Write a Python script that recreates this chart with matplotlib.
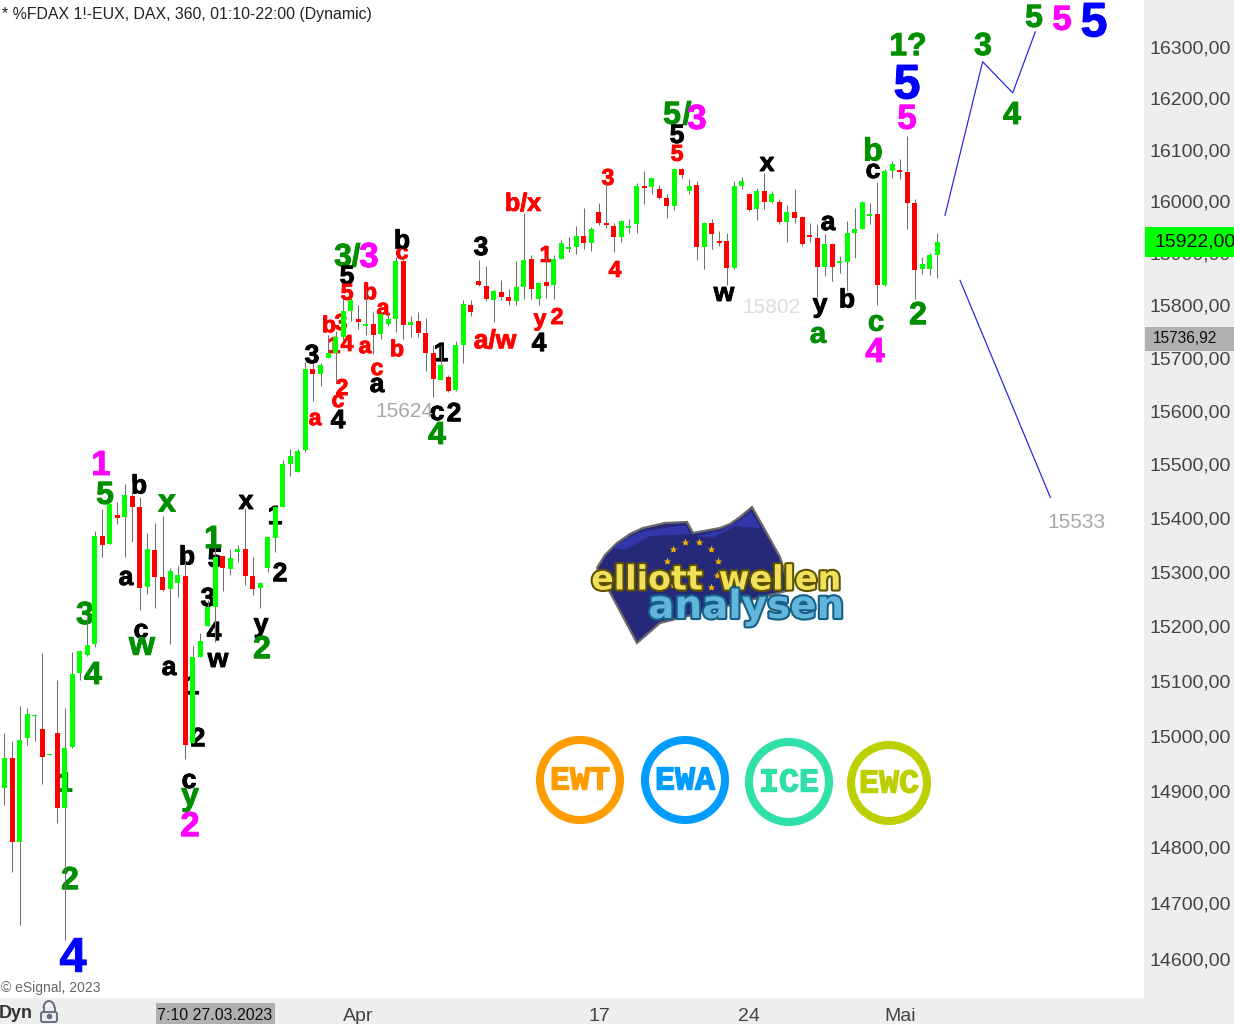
import math
import matplotlib
matplotlib.use("Agg")
import matplotlib.pyplot as plt
import matplotlib.patheffects as pe
from matplotlib.font_manager import FontProperties
from matplotlib.patches import Circle, Polygon, Rectangle, FancyBboxPatch, Arc
from matplotlib.textpath import TextPath
from matplotlib.ticker import NullLocator
from matplotlib.transforms import blended_transform_factory

highs = [15004,14991,15053,15051,15040,15150,14967,15101,15050,15152,
 15156,15217,15375,15416,15425,15429,15463,15466,15438,15371,
 15390,15403,15306,15310,15331,15163,15187,15248,15344,15329,
 15342,15349,15418,15327,15281,15364,15423,15507,15528,15528,
 15692,15690,15690,15743,15752,15815,15815,15800,15831,15787,
 15787,15787,15892,15892,15779,15787,15777,15724,15724,15667,
 15733,15810,15810,15887,15875,15829,15848,15831,15885,15977,
 15896,15842,15896,15896,15925,15931,15952,15987,15950,15996,
 16035,15958,15963,15965,16035,16058,16046,16031,16015,16064,
 16064,16043,16039,15960,15965,15942,15938,16039,16048,16017,
 16025,16054,16019,16004,15992,16023,15971,15958,15956,15937,
 15919,15894,15962,15987,16000,15996,16037,16062,16078,16082,
 16126,16004,15892,15900,15938]
lows = [14875,14755,14661,14984,14991,14912,14965,14843,14634,14977,
 15101,15145,15161,15327,15351,15388,15327,15355,15229,15259,
 15233,15264,15167,15253,14957,14986,15143,15200,15171,15264,
 15294,15318,15275,15257,15233,15299,15336,15420,15478,15485,
 15522,15618,15648,15701,15654,15733,15770,15756,15743,15707,
 15737,15760,15749,15737,15739,15739,15675,15627,15659,15635,
 15637,15690,15779,15838,15808,15768,15810,15800,15800,15812,
 15812,15800,15815,15813,15888,15902,15898,15908,15904,15954,
 15948,15902,15921,15938,15938,15994,16015,16004,15967,15983,
 16045,16015,15887,15869,15908,15913,15840,15869,16023,15981,
 15963,15985,15996,15956,15921,15958,15913,15921,15817,15856,
 15846,15862,15827,15890,15946,15956,15800,15837,16045,16043,
 15946,15812,15860,15858,15852]
opens = [14905,14959,14809,14995,15036,15013,14965,15005,14870,14979,
 15114,15147,15167,15366,15351,15406,15401,15440,15420,15272,
 15340,15290,15268,15279,15292,14986,15143,15200,15235,15329,
 15305,15336,15342,15292,15270,15306,15362,15420,15500,15485,
 15526,15680,15669,15701,15709,15739,15790,15775,15760,15764,
 15745,15764,15775,15885,15762,15770,15747,15709,15659,15665,
 15639,15724,15800,15846,15838,15810,15825,15817,15808,15835,
 15888,15812,15844,15840,15888,15908,15912,15933,15919,15979,
 15958,15952,15931,15948,15956,16029,16027,16023,16006,15990,
 16062,16019,16031,15912,15958,15923,15923,15871,16029,16014,
 15985,16019,15998,15998,15960,15979,15969,15935,15929,15873,
 15917,15881,15883,15938,15946,15971,15975,15840,16058,16060,
 16056,15996,15869,15869,15896]
closes = [14959,14809,14993,15039,15038,14962,14967,14870,14977,15112,
 15154,15165,15366,15349,15425,15399,15442,15420,15270,15342,
 15290,15266,15301,15294,14984,15143,15172,15235,15327,15306,
 15325,15342,15292,15268,15279,15364,15421,15500,15515,15524,
 15680,15669,15686,15709,15739,15790,15810,15768,15764,15743,
 15783,15775,15885,15762,15768,15747,15709,15661,15686,15637,
 15724,15802,15787,15840,15812,15827,15817,15808,15835,15887,
 15831,15842,15838,15888,15919,15912,15933,15919,15946,15958,
 15954,15931,15962,15952,16029,16025,16045,16006,15990,16062,
 16051,16029,15912,15958,15937,15919,15871,16029,16039,15983,
 16019,15998,16015,15960,15979,15967,15917,15931,15873,15917,
 15873,15885,15938,15946,15998,15975,15840,16058,16072,16056,
 15996,15867,15879,15896,15922]

y_ticks = [16300,16200,16100,16000,15900,15800,15700,15600,15500,
           15400,15300,15200,15100,15000,14900,14800,14700,14600]
x_ticks = [47, 79, 99, 119]
x_tick_labels = ["Apr", "17", "24", "Mai"]
last_price = 15922
cursor_price = 15736.92
up_path_x = [125, 130, 134, 137]
up_path_y = [15973, 16272, 16211, 16331]
down_path_x = [127, 139]
down_path_y = [15848, 15438]

GR, MG, BL, BK, RD = "#008f00", "#ff00ff", "#0000ff", "#000000", "#ff0000"
wave_labels = [
 ("1",101,463,MG,25),("5",105,493,GR,23),("b",139,484,BK,19),("x",167,503,GR,23),
 ("a",126,578,BK,19),("c",141,631,BK,19),("w",142,646,GR,24),("3",85,613,GR,23),
 ("4",93,673,GR,23),("1",213,537,GR,23),("5",215,558,BK,19),("3",208,597,BK,19),
 ("4",214,631,BK,19),("w",218,660,BK,19),("b",187,555,BK,19),("a",169,668,BK,19),
 ("1",192,685,BK,19),("x",246,502,BK,19),("1",275,515,BK,19),("2",280,572,BK,19),
 ("y",261,628,BK,19),("2",262,647,GR,23),("2",198,737,BK,19),("c",189,781,BK,19),
 ("y",190,800,GR,23),("2",190,824,MG,25),("1",65,782,GR,20),("2",70,878,GR,23),
 ("4",73,955,BL,35),
 ("3",343,255,GR,23),("/",356,255,GR,23),("3",369,255,MG,25),("5",347,275,BK,19),
 ("5",347,292,RD,16.5),("b",370,291,RD,16.5),("a",383,309,RD,16.5),("b",329,324,RD,16.5),
 ("3",341,322,RD,16.5),("4",347,343,RD,16.5),("1",334,345,RD,16.5),("a",365,347,RD,16.5),
 ("c",377,369,RD,16.5),("b",397,348,RD,16.5),("c",402,253,RD,16.5),("2",342,387,RD,16.5),
 ("c",338,401,RD,16.5),("a",315,419,RD,16.5),("a/w",495,339,RD,19),("b/x",523,202,RD,18),
 ("1",546,254,RD,16.5),("y",540,322,RD,16.5),("2",557,316,RD,16.5),("3",608,177,RD,16.5),
 ("4",615,269,RD,16.5),("5",677,153,RD,16.5),
 ("3",312,354,BK,19),("4",338,419,BK,19),("a",377,385,BK,19),("b",402,239,BK,19),
 ("1",441,352,BK,19),("c",437,413,BK,19),("2",454,412,BK,19),("3",481,246,BK,19),
 ("4",539,342,BK,19),("4",437,433,GR,23),
 ("5",672,113,GR,23),("/",687,113,GR,23),("3",697,117,MG,25),("5",677,134,BK,19),
 ("w",724,294,BK,19),("x",767,164,BK,19),("a",828,223,BK,19),("y",820,308,BK,19),
 ("b",847,298,BK,19),("a",818,335,GR,21),("c",876,323,GR,21),("4",875,350,MG,25),
 ("b",873,149,GR,23),("c",873,171,BK,19),("5",907,117,MG,25),("2",918,313,GR,23),
 ("1?",908,44,GR,23),("5",907,82,BL,35),("3",983,44,GR,23),("4",1012,113,GR,23),
 ("5",1034,16,GR,23),("5",1062,18,MG,25),("5",1094,20,BL,35),
]
note_labels = [("15624",404,410,"#a8a8a8"),("15802",771,306,"#dcdcdc"),("15533",1076,521,"#a8a8a8")]
badges = [("EWT",580,780,44,"#ff9c00"),("EWA",685,780,44,"#009cff"),
          ("ICE",789,782,44,"#30e0a8"),("EWC",889,783,42,"#bcd000")]

W, H = 1234, 1024
CHART_R, CHART_B = 1144, 998
plt.rcParams["font.family"] = ["Liberation Sans", "DejaVu Sans"]
fig = plt.figure(figsize=(W/100, H/100), dpi=100, facecolor="white")

# pixel-space layer below the candles
bg = fig.add_axes([0, 0, 1, 1], zorder=0)
bg.set_xlim(0, W); bg.set_ylim(H, 0); bg.axis("off")
bg.add_patch(Rectangle((CHART_R, 0), W-CHART_R, H, fc="#eeeeee", ec="none"))
bg.add_patch(Rectangle((0, CHART_B), W, H-CHART_B, fc="#eeeeee", ec="none"))

def centered(s, cx, cy, size, color, weight="bold", stroke=0.0):
    fp = FontProperties(family="Liberation Sans", weight=weight, size=size)
    bb = TextPath((0, 0), s, size=size*100/72, prop=fp).get_extents()
    t = bg.text(cx, cy + (bb.y0+bb.y1)/2, s, fontproperties=fp, color=color,
                ha="center", va="baseline")
    if stroke:
        t.set_path_effects([pe.withStroke(linewidth=stroke, foreground=color)])

for s, cx, cy, col, size in wave_labels:
    centered(s, cx, cy, size, col, stroke=0.7)
for s, cx, cy, col in note_labels:
    centered(s, cx, cy, 15, col, weight="normal")

# logo
bg.add_patch(Polygon([(597,568),(605,555),(617,543),(630,534),(643,528),(665,523),(687,522),
                      (693,533),(720,528),(730,524),(740,517),(752,507),(780,557),(790,590),
                      (660,623),(637,643)],
                     closed=True, fc="#26297a", ec="#6a6a6a", lw=1.6))
bg.add_patch(Polygon([(612,548),(630,537),(643,531),(686,525),(690,534),(650,536),(625,550)],
                     closed=True, fc="#3236a8", ec="none"))
bg.add_patch(Polygon([(696,536),(720,531),(741,520),(751,511),(760,528),(735,526),(712,538)],
                     closed=True, fc="#3236a8", ec="none"))
bg.plot([673,685,699,711,718,667,711,717,673],[549,542,542,549,561,561,587,575,585],
        ls="none", marker="*", ms=6, color="#f0b400", mec="none")
for s, cx, cy, col, edge, size in [("elliott",647,580,"#f2e05a","#5c5200",24),
                                   ("wellen",780,580,"#f2e05a","#5c5200",24),
                                   ("analysen",746,607,"#62b6dc","#155f86",28)]:
    bg.text(cx, cy, s, family="DejaVu Sans", weight="bold", fontsize=size, color=col,
            ha="center", va="center",
            path_effects=[pe.withStroke(linewidth=3, foreground=edge)])

# badges
for s, cx, cy, r, col in badges:
    bg.add_patch(Circle((cx, cy), r-4, fc="white", ec=col, lw=5.8))
    t = bg.text(cx, cy+1, s, family="Liberation Mono", weight="bold", fontsize=24, color=col,
                ha="center", va="center")
    t.set_path_effects([pe.withStroke(linewidth=1.0, foreground=col)])

# footer and notes
bg.text(2, 15, "* %FDAX 1!-EUX, DAX, 360, 01:10-22:00 (Dynamic)", fontsize=11.4,
        color="#222222", va="center", ha="left")
bg.text(1, 988, "© eSignal, 2023", fontsize=10, color="#666666", va="center", ha="left")
bg.text(-1, 1013, "Dyn", fontsize=13, weight="bold", color="#333333", va="center", ha="left")
bg.add_patch(FancyBboxPatch((41, 1012), 16, 10, boxstyle="round,pad=0,rounding_size=2",
                            fc="none", ec="#667080", lw=1.4))
bg.add_patch(Arc((49, 1008), 11, 14, theta1=180, theta2=360, ec="#667080", lw=1.4))
bg.plot([43.5, 43.5], [1008, 1012], color="#667080", lw=1.4)
bg.plot([54.5, 54.5], [1008, 1012], color="#667080", lw=1.4)
bg.plot([49], [1016], marker="o", ms=3, color="#667080")
bg.add_patch(Rectangle((156, 1003), 119, 21, fc="#b0b0b0", ec="none"))
bg.text(215, 1015, "7:10 27.03.2023", fontsize=11.5, color="#111111", ha="center", va="center")

# price chart
k = math.log(16300/14600)/912
px_step = 7.524
x0 = 4.5
ax = fig.add_axes([0, (H-CHART_B)/H, CHART_R/W, CHART_B/H], zorder=1)
ax.patch.set_alpha(0)
ax.set_yscale("log")
ax.set_ylim(16300*math.exp(-k*(CHART_B-47.5)), 16300*math.exp(k*47.5))
ax.set_xlim(-x0/px_step, (CHART_R-x0)/px_step)
for s in ax.spines.values():
    s.set_visible(False)

xs = list(range(len(opens)))
ax.vlines(xs, lows, highs, color="#707070", lw=0.75, zorder=2)
tops = [max(o, c) for o, c in zip(opens, closes)]
bots = [min(o, c) for o, c in zip(opens, closes)]
cols = ["#00ff00" if c >= o else "#ff0000" for o, c in zip(opens, closes)]
ax.bar(xs, [t-b for t, b in zip(tops, bots)], bottom=bots, width=5/px_step, color=cols,
       lw=0, zorder=3)
ax.plot(up_path_x, up_path_y, color="#2020e0", lw=0.85, zorder=4)
ax.plot(down_path_x, down_path_y, color="#2020e0", lw=0.85, zorder=4)

ax.yaxis.tick_right()
ax.set_yticks(y_ticks)
ax.set_yticklabels([f"{v},00" for v in y_ticks], fontsize=14, color="#444444")
ax.yaxis.set_minor_locator(NullLocator())
ax.tick_params(axis="y", length=0, pad=4.2, which="both")
ax.set_xticks(x_ticks)
ax.set_xticklabels(x_tick_labels, fontsize=14, color="#444444")
ax.tick_params(axis="x", length=0, pad=7.5)

# price boxes on the right scale
tr = blended_transform_factory(fig.transFigure, ax.transData)
def price_box(price, h_px, color, label, size, text_x):
    upper = price*math.exp(k*h_px/2)
    lower = price*math.exp(-k*h_px/2)
    ax.add_patch(Rectangle((1145/W, lower), (W-1145)/W, upper-lower, transform=tr, fc=color,
                           ec="none", clip_on=False, zorder=6))
    ax.text(text_x/W, price, label, transform=tr, fontsize=size, color="#111111",
            ha="left", va="center", clip_on=False, zorder=7)
price_box(last_price, 30, "#00ff00", f"{last_price},00", 14, 1155)
price_box(cursor_price, 24, "#b0b0b0", f"{cursor_price:.2f}".replace(".", ","), 11.2, 1153)

fig.savefig("out.png", dpi=100)
